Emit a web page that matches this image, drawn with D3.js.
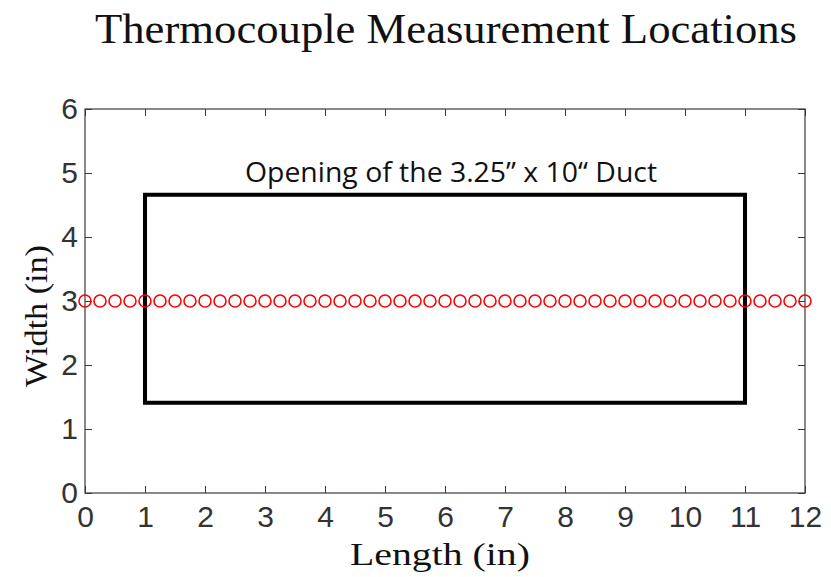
<!DOCTYPE html>
<html>
<head>
<meta charset="utf-8">
<script src="https://cdn.jsdelivr.net/npm/d3@7"></script>
<style>
  html, body { margin: 0; padding: 0; background: #fff; }
  svg { display: block; }
</style>
</head>
<body>
<svg id="chart" width="831" height="577"></svg>
<script>
// Thermocouple positions along the centreline (inches)
const sensorX = [
  0, 0.25, 0.5, 0.75, 1, 1.25, 1.5, 1.75, 2, 2.25, 2.5, 2.75,
  3, 3.25, 3.5, 3.75, 4, 4.25, 4.5, 4.75, 5, 5.25, 5.5, 5.75,
  6, 6.25, 6.5, 6.75, 7, 7.25, 7.5, 7.75, 8, 8.25, 8.5, 8.75,
  9, 9.25, 9.5, 9.75, 10, 10.25, 10.5, 10.75, 11, 11.25, 11.5, 11.75, 12
];
const sensorY = 3;

// Duct opening outline (inches)
const ductX = [1, 11];
const ductY = [1.41, 4.66];

const xTicks = [0, 1, 2, 3, 4, 5, 6, 7, 8, 9, 10, 11, 12];
const yTicks = [0, 1, 2, 3, 4, 5, 6];

const titleText = "Thermocouple Measurement Locations";
const xLabel = "Length (in)";
const yLabel = "Width (in)";
const ductLabel = "Opening of the 3.25\u201D x 10\u201C Duct";

const svg = d3.select("#chart");
const plot = { left: 85, right: 805, top: 109, bottom: 493 };

const x = d3.scaleLinear().domain([0, 12]).range([plot.left, plot.right]);
const y = d3.scaleLinear().domain([0, 6]).range([plot.bottom, plot.top]);

const axisColor = "#3a3a3a";
const tickLen = 7;
const tickFont = "'Liberation Sans', Arial, sans-serif";
const serif = "'Liberation Serif', 'DejaVu Serif', serif";

// Axes with inward ticks on all four sides
function styleAxis(g) {
  g.select(".domain").remove();
  g.selectAll(".tick line").attr("stroke", axisColor).attr("stroke-width", 1);
  g.selectAll(".tick text")
    .attr("font-family", tickFont)
    .attr("font-size", 30)
    .attr("fill", "#333");
}

svg.append("g")
  .attr("transform", `translate(0,${plot.bottom})`)
  .call(d3.axisBottom(x).tickValues(xTicks).tickSize(-tickLen).tickPadding(13).tickFormat(d3.format("d")))
  .call(styleAxis);

svg.append("g")
  .attr("transform", `translate(0,${plot.top})`)
  .call(d3.axisTop(x).tickValues(xTicks).tickSize(-tickLen).tickFormat(""))
  .call(styleAxis);

svg.append("g")
  .attr("transform", `translate(${plot.left},0)`)
  .call(d3.axisLeft(y).tickValues(yTicks).tickSize(-tickLen).tickPadding(7).tickFormat(d3.format("d")))
  .call(styleAxis);

svg.append("g")
  .attr("transform", `translate(${plot.right},0)`)
  .call(d3.axisRight(y).tickValues(yTicks).tickSize(-tickLen).tickFormat(""))
  .call(styleAxis);

// Axes box
svg.append("rect")
  .attr("x", plot.left).attr("y", plot.top)
  .attr("width", plot.right - plot.left).attr("height", plot.bottom - plot.top)
  .attr("fill", "none").attr("stroke", axisColor).attr("stroke-width", 1.2);

// Duct outline
svg.append("rect")
  .attr("x", x(ductX[0])).attr("y", y(ductY[1]))
  .attr("width", x(ductX[1]) - x(ductX[0]))
  .attr("height", y(ductY[0]) - y(ductY[1]))
  .attr("fill", "none").attr("stroke", "#000").attr("stroke-width", 4);

// Thermocouple markers
svg.append("g").selectAll("circle")
  .data(sensorX)
  .join("circle")
  .attr("cx", d => x(d)).attr("cy", y(sensorY))
  .attr("r", 6)
  .attr("fill", "none").attr("stroke", "#ff0000").attr("stroke-width", 1.6);

// Duct annotation
svg.append("text")
  .attr("x", 451).attr("y", 182)
  .attr("text-anchor", "middle")
  .attr("font-family", "'Open Sans', 'Noto Sans', sans-serif")
  .attr("font-size", 28)
  .attr("fill", "#111")
  .attr("textLength", 412)
  .attr("lengthAdjust", "spacingAndGlyphs")
  .text(ductLabel);

// Title and axis labels
svg.append("text")
  .attr("x", 446).attr("y", 43)
  .attr("text-anchor", "middle")
  .attr("font-family", serif)
  .attr("font-size", 43)
  .attr("fill", "#111")
  .attr("textLength", 702)
  .attr("lengthAdjust", "spacingAndGlyphs")
  .text(titleText);

svg.append("text")
  .attr("x", 440).attr("y", 565)
  .attr("text-anchor", "middle")
  .attr("font-family", serif)
  .attr("font-size", 31)
  .attr("fill", "#111")
  .attr("textLength", 180)
  .attr("lengthAdjust", "spacingAndGlyphs")
  .text(xLabel);

svg.append("text")
  .attr("transform", "translate(47,316) rotate(-90)")
  .attr("text-anchor", "middle")
  .attr("font-family", serif)
  .attr("font-size", 31)
  .attr("fill", "#111")
  .attr("textLength", 142)
  .attr("lengthAdjust", "spacingAndGlyphs")
  .text(yLabel);
</script>
</body>
</html>
